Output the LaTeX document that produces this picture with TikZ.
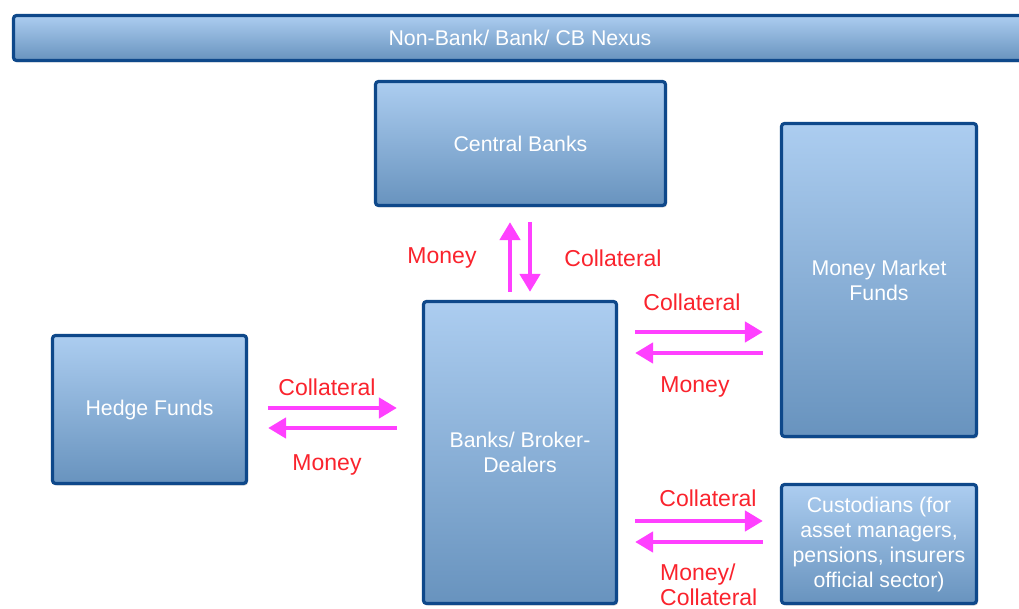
\documentclass[tikz,border=0pt]{standalone}
\usepackage{fontspec}
\setmainfont{Liberation Sans}
\usetikzlibrary{arrows.meta,shadows,calc}
\definecolor{boxtop}{RGB}{172,205,240}
\definecolor{boxbot}{RGB}{104,147,190}
\definecolor{boxline}{RGB}{14,72,138}
\definecolor{flowred}{RGB}{250,35,45}
\definecolor{flowmag}{RGB}{255,64,255}
\tikzset{
 box/.style={rectangle, rounded corners=3pt, draw=boxline, line width=3.2pt,
   top color=boxtop, bottom color=boxbot, text=white, align=center,
   font=\fontsize{21.3}{25}\selectfont, inner sep=0pt,
   drop shadow={opacity=0.3, shadow xshift=1.5pt, shadow yshift=-2pt}},
 flowlbl/.style={text=flowred, font=\fontsize{23}{25}\selectfont, inner sep=0pt},
 flow/.style={draw=flowmag, line width=4.6pt, -{Triangle[length=18pt,width=20pt]}},
}
\begin{document}
\begin{tikzpicture}[x=1pt,y=-1pt]
\useasboundingbox[fill=white] (0,0) rectangle (1019,609);
\node[box, minimum width=1013pt, minimum height=45pt] (nx) at (520,38) {Non-Bank/ Bank/ CB Nexus};
\node[box, minimum width=290pt, minimum height=124pt] (cb) at (520.5,143.5) {Central Banks};
\node[box, minimum width=193pt, minimum height=302pt] (bd) at (520,452.5) {Banks/ Broker-\\Dealers};
\node[box, minimum width=195pt, minimum height=313pt] (mmf) at (879,280) {Money Market\\Funds};
\node[box, minimum width=195pt, minimum height=119pt] (cu) at (879,544) {Custodians (for\\asset managers,\\pensions, insurers\\official sector)};
\node[box, minimum width=194pt, minimum height=148pt] (hf) at (149.5,409.5) {Hedge Funds};

% central bank arrows
\draw[flow] ($(bd.north)+(-10,-8)$) -- ($(bd.north |- cb.south)+(-10,15)$);
\draw[flow] ($(bd.north |- cb.south)+(10,15)$) -- ($(bd.north)+(10,-8)$);
\node[flowlbl] (l1) at (442,258) {Money};
\node[flowlbl] (l2) at (613,258) {Collateral};

% money market fund arrows
\draw[flow] ($(bd.east |- mmf.west)+(17,52)$) -- ($(mmf.west)+(-17,52)$);
\draw[flow] ($(mmf.west)+(-17,73)$) -- ($(bd.east |- mmf.west)+(17,73)$);
\node[flowlbl] (l3) at (692,302) {Collateral};
\node[flowlbl] (l4) at (695,387) {Money};

% custodian arrows
\draw[flow] ($(bd.east |- cu.west)+(17,-23)$) -- ($(cu.west)+(-17,-23)$);
\draw[flow] ($(cu.west)+(-17,-2)$) -- ($(bd.east |- cu.west)+(17,-2)$);
\node[flowlbl] (l5) at (708,498) {Collateral};
\node[flowlbl, align=left, anchor=west] (l6) at (660,585) {Money/\\Collateral};

% hedge fund arrows
\draw[flow] ($(hf.east)+(20,-1.5)$) -- ($(bd.west |- hf.east)+(-25,-1.5)$);
\draw[flow] ($(bd.west |- hf.east)+(-25,18.5)$) -- ($(hf.east)+(20,18.5)$);
\node[flowlbl] (l7) at (327,387) {Collateral};
\node[flowlbl] (l8) at (327,465) {Money};
\end{tikzpicture}
\end{document}
